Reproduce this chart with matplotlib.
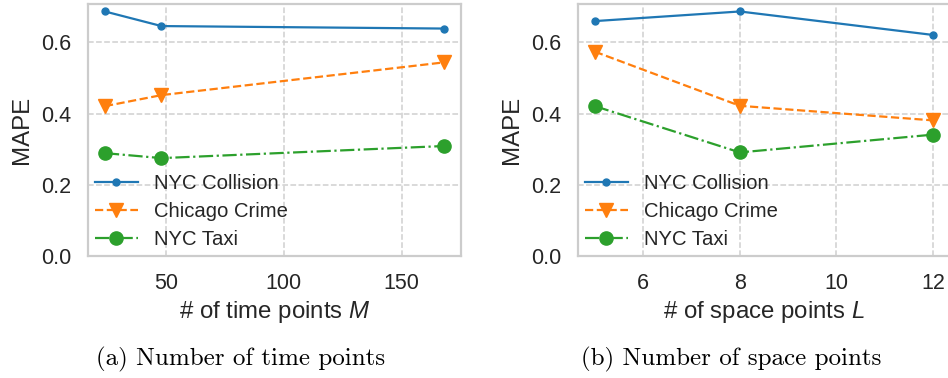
import matplotlib
matplotlib.use("Agg")
import matplotlib.pyplot as plt

# Data
time_points = [24, 48, 168]
time_collision = [0.687, 0.646, 0.639]
time_crime = [0.421, 0.452, 0.544]
time_taxi = [0.289, 0.275, 0.309]

space_points = [5, 8, 12]
space_collision = [0.660, 0.687, 0.621]
space_crime = [0.574, 0.422, 0.381]
space_taxi = [0.421, 0.291, 0.341]

series_names = ["NYC Collision", "Chicago Crime", "NYC Taxi"]
captions = ["(a) Number of time points", "(b) Number of space points"]
xlabels = ["# of time points $M$", "# of space points $L$"]
yticks = [0.0, 0.2, 0.4, 0.6]

plt.rcParams['font.family'] = ['Liberation Sans', 'DejaVu Sans']
plt.rcParams['mathtext.fontset'] = 'custom'
plt.rcParams['mathtext.it'] = 'Liberation Sans:italic'
plt.rcParams['mathtext.rm'] = 'Liberation Sans'

W, H = 948, 378
fig = plt.figure(figsize=(W / 100, H / 100), dpi=100)

text_color = '#262626'
grid_color = '#cfcfcf'
spine_color = '#cccccc'

ax1 = fig.add_axes([88 / W, 1 - 256 / H, 373 / W, 252 / H])
ax2 = fig.add_axes([578 / W, 1 - 256 / H, 372 / W, 252 / H])

data = [
    (ax1, time_points, time_collision, time_crime, time_taxi),
    (ax2, space_points, space_collision, space_crime, space_taxi),
]

for i, (ax, x, c, cr, tx) in enumerate(data):
    ax.plot(x, c, color='#1f77b4', linestyle='-', marker='.', markersize=10,
            linewidth=1.6, label=series_names[0])
    ax.plot(x, cr, color='#ff7f0e', linestyle='--', marker='v', markersize=10,
            linewidth=1.6, label=series_names[1])
    ax.plot(x, tx, color='#2ca02c', linestyle='-.', marker='o', markersize=9.5,
            linewidth=1.6, label=series_names[2])
    ax.set_ylim(0, 0.708)
    ax.set_yticks(yticks)
    ax.set_yticklabels(["0.0", "0.2", "0.4", "0.6"])
    ax.grid(True, linestyle='--', color=grid_color, linewidth=1.1)
    ax.set_axisbelow(True)
    for s in ax.spines.values():
        s.set_color(spine_color)
        s.set_linewidth(1.6)
    ax.tick_params(axis='both', length=0, pad=12, labelsize=15.5, colors=text_color)
    ax.set_ylabel("MAPE", fontsize=17.3, color=text_color, labelpad=6)
    ax.set_xlabel(xlabels[i], fontsize=17.3, color=text_color, labelpad=4)
    leg = ax.legend(loc='lower left', frameon=False, fontsize=14.6,
                    handlelength=2.1, handletextpad=0.8, labelspacing=0.45,
                    numpoints=1, borderaxespad=0.15, borderpad=0.2)
    for t in leg.get_texts():
        t.set_color(text_color)

ax2.set_xticks([6, 8, 10, 12])
ax1.set_xticks([50, 100, 150])

fig.text(240.5 / W, 1 - 359 / H, captions[0], fontfamily='cmr10', fontsize=18,
         ha='center', va='center', color='black')
fig.text(730.8 / W, 1 - 359 / H, captions[1], fontfamily='cmr10', fontsize=18,
         ha='center', va='center', color='black')

fig.savefig("out.png", dpi=100)
